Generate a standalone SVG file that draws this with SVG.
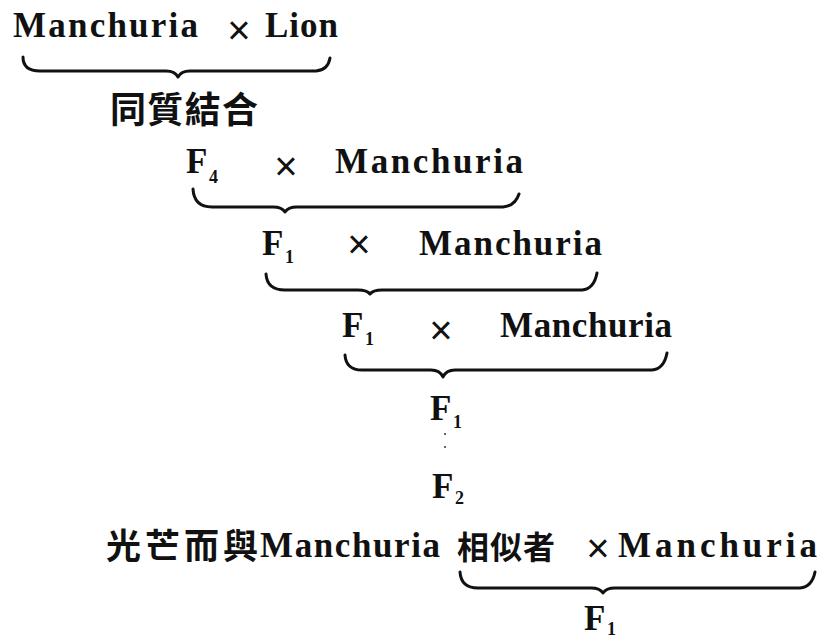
<svg xmlns="http://www.w3.org/2000/svg" width="828" height="641" viewBox="0 0 828 641">
<style>
.t{font-family:"Liberation Serif","DejaVu Serif",serif;font-weight:bold;font-size:35px;fill:#111}
.s{font-family:"Liberation Serif","DejaVu Serif",serif;font-weight:bold;font-size:18px;fill:#111}
.x{font-family:"Liberation Sans","DejaVu Sans",sans-serif;font-size:40px;fill:#111;text-anchor:middle}
.c{font-family:"Noto Sans CJK TC","Noto Sans CJK SC",sans-serif;font-weight:bold;fill:#111}
.b{fill:none;stroke:#111;stroke-width:3;stroke-linecap:round;stroke-linejoin:round}
</style>
<rect width="828" height="641" fill="#fff"/>
<g id="line1">
<text class="t" x="13" y="37" textLength="185" lengthAdjust="spacing">Manchuria</text>
<text class="x" x="239" y="44">×</text>
<text class="t" x="265" y="37" textLength="73" lengthAdjust="spacing">Lion</text>
</g>
<g id="label-homo">
<text class="c" x="110" y="123" font-size="36" textLength="148" lengthAdjust="spacing">同質結合</text>
</g>
<g id="line2">
<text class="t" x="186" y="173">F</text><text class="s" x="209" y="183">4</text>
<text class="x" x="286" y="180">×</text>
<text class="t" x="335" y="173" textLength="188" lengthAdjust="spacing">Manchuria</text>
</g>
<g id="line3">
<text class="t" x="262" y="255">F</text><text class="s" x="285" y="263">1</text>
<text class="x" x="359" y="258">×</text>
<text class="t" x="419" y="255" textLength="183" lengthAdjust="spacing">Manchuria</text>
</g>
<g id="line4">
<text class="t" x="342" y="337">F</text><text class="s" x="365" y="345">1</text>
<text class="x" x="441" y="344">×</text>
<text class="t" x="500" y="337" textLength="172" lengthAdjust="spacing">Manchuria</text>
</g>
<g id="f1-mid">
<text class="t" x="430" y="420">F</text><text class="s" x="453" y="428">1</text>
</g>
<g id="dots">
<circle cx="445" cy="434" r="1" fill="#333"/>
<circle cx="445" cy="447" r="1" fill="#333"/>
</g>
<g id="f2">
<text class="t" x="432" y="498">F</text><text class="s" x="455" y="504">2</text>
</g>
<g id="line5">
<text class="c" x="106" y="559" font-size="35" textLength="152" lengthAdjust="spacing">光芒而與</text>
<text class="t" x="260" y="557" font-size="33" textLength="180" lengthAdjust="spacing">Manchuria</text>
<text class="c" x="457" y="559" font-size="32" textLength="98" lengthAdjust="spacing">相似者</text>
<text class="x" x="598" y="562">×</text>
<text class="t" x="618" y="557" textLength="199" lengthAdjust="spacing">Manchuria</text>
</g>
<g id="f1-bottom">
<text class="t" x="584" y="630">F</text><text class="s" x="607" y="635">1</text>
</g>
<g id="connectors">
<path class="b" d="M23,57 Q23,71 40,71 L166,71 Q175,71 178,77 Q181,71 190,71 L316,71 Q328,70 330,58"/>
<path class="b" d="M193,189 Q194,207 212,207 L273,207 Q282,207 285,212 Q288,207 297,207 L503,207 Q515,206 519,194"/>
<path class="b" d="M266,274 Q267,290 285,290 L358,290 Q367,290 370,294 Q373,290 382,290 L582,290 Q594,289 597,273"/>
<path class="b" d="M345,355 Q346,370 362,370 L431,370 Q440,370 443,377 Q446,370 455,370 L652,370 Q664,369 667,353"/>
<path class="b" d="M460,572 Q461,588 478,588 L591,588 Q600,588 603,593 Q606,588 615,588 L800,588 Q812,587 815,572"/>
</g>
</svg>
